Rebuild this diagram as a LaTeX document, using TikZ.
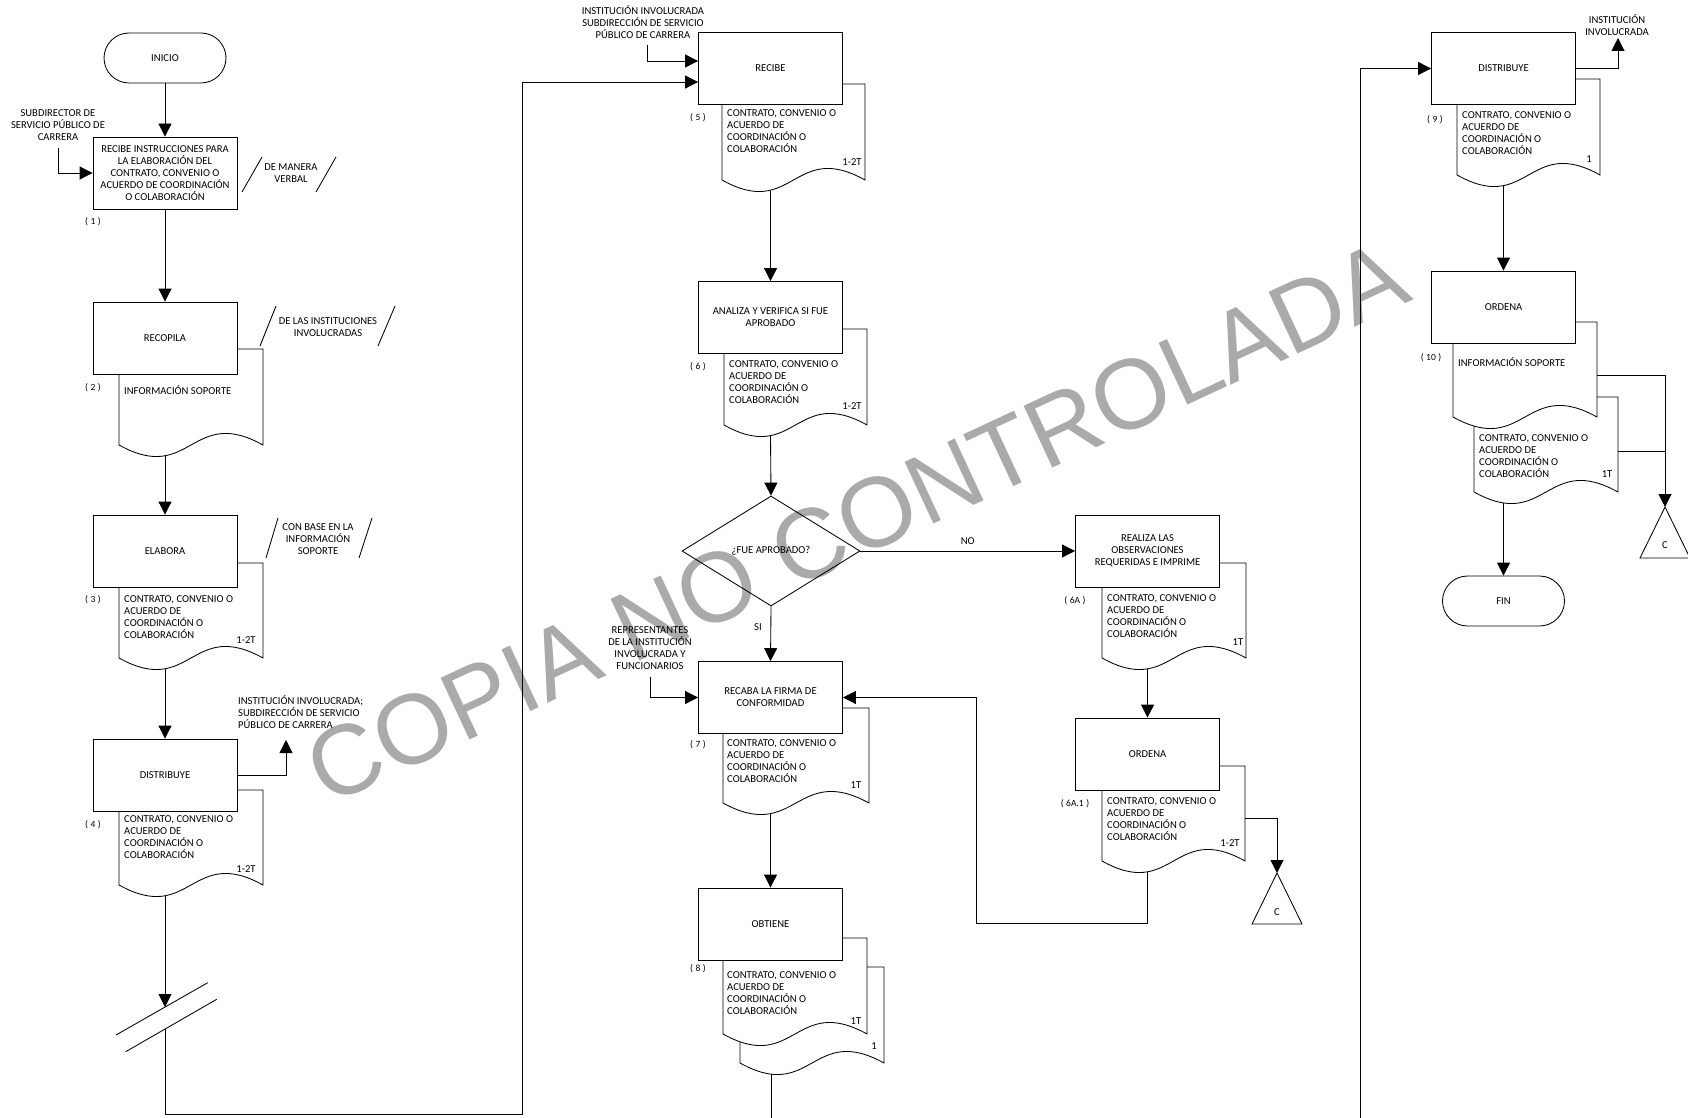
\documentclass[tikz,border=0pt]{standalone}
\usepackage{fontspec}
\setmainfont{Carlito}
\newfontfamily\markfont{Liberation Sans}
\usetikzlibrary{arrows.meta,shapes.geometric}
\newcommand\flowfont{\fontsize{10.6}{12}\selectfont}
\newcommand\stepfont{\fontsize{9.5}{11}\selectfont}
\definecolor{markgray}{RGB}{170,170,170}

% visible outline of a document symbol tucked behind a process box
\newcommand\docshape[5]{% box, left x, top y, right x, bottom y
  \draw[flow] (#1.east |- 0,#3) -- (#4,#3) -- (#4,#5)
    .. controls ({(#2+#4)/2},{#5-40}) and ({(#2+#4)/2},{#5+40}) .. (#2,#5)
    -- (#2,0 |- #1.south);}
% second sheet lying behind a document
\newcommand\docsheet[6]{% front right x, left x, top y, right x, bottom y, left end y
  \draw[flow] (#1,#3) -- (#4,#3) -- (#4,#5)
    .. controls ({(#2+#4)/2},{#5-40}) and ({(#2+#4)/2},{#5+40}) .. (#2,#5)
    -- (#2,#6);}

\tikzset{
  flow/.style={line width=0.85pt, draw=black},
  arr/.style={flow, -{Triangle[length=13pt,width=13pt]}},
  procbox/.style={draw, line width=0.85pt, minimum width=144pt, minimum height=72pt,
    inner sep=2pt, align=center, font=\flowfont},
  term/.style={draw, line width=0.85pt, rounded corners=25pt, minimum width=122pt,
    minimum height=50pt, font=\flowfont},
  % multi-line texts are placed by the baseline of their last line
  txt/.style={inner sep=0pt, font=\flowfont, align=center, anchor=base},
  ltxt/.style={inner sep=0pt, font=\flowfont, align=left, anchor=base west},
  stepno/.style={inner sep=0pt, font=\stepfont, anchor=base},
}

\begin{document}
\begin{tikzpicture}[x=1pt, y=-1pt]
\useasboundingbox (0,0) rectangle (1688,1118);

% watermark
\node[rotate=25, text=markgray, inner sep=0pt,
  font=\markfont\fontsize{99}{99}\selectfont] (mark) at (857,522) {COPIA NO CONTROLADA};

% ---------------- column 1
\node[term] (inicio) at (165,58) {INICIO};
\node[procbox] (b1) at (165,173) {RECIBE INSTRUCCIONES PARA\\LA ELABORACIÓN DEL\\CONTRATO, CONVENIO O\\ACUERDO DE COORDINACIÓN\\O COLABORACIÓN};
\node[procbox] (b2) at (165,338) {RECOPILA};
\node[procbox] (b3) at (165,551) {ELABORA};
\node[procbox] (b4) at (165,775) {DISTRIBUYE};
\docshape{b2}{119}{349}{263}{445}
\docshape{b3}{119}{563}{263}{658}
\docshape{b4}{119}{790}{263}{885}
\coordinate (d2) at (165,455.7);
\coordinate (d3) at (165,668.7);
\coordinate (d4) at (165,895.7);

\node[txt] (sub) at (58,140.5) {SUBDIRECTOR DE\\SERVICIO PÚBLICO DE\\CARRERA};
\node[txt] (verbal) at (291,182.5) {DE MANERA\\VERBAL};
\draw[flow] (242,192) -- (262,157);
\draw[flow] (316,192) -- (336,157);
\node[txt] (inst2) at (328,336.5) {DE LAS INSTITUCIONES\\INVOLUCRADAS};
\draw[flow] (260,346) -- (276,306);
\draw[flow] (378,346) -- (395,306);
\node[txt] (base3) at (318,554.5) {CON BASE EN LA\\INFORMACIÓN\\SOPORTE};
\draw[flow] (266,558) -- (278,518);
\draw[flow] (359,558) -- (372,518);
\node[ltxt] (out4) at (238,728.5) {INSTITUCIÓN INVOLUCRADA;\\SUBDIRECCIÓN DE SERVICIO\\PÚBLICO DE CARRERA};

\node[ltxt] at (124,394.5) {INFORMACIÓN SOPORTE};
\node[ltxt] at (124,638.5) {CONTRATO, CONVENIO O\\ACUERDO DE\\COORDINACIÓN O\\COLABORACIÓN};
\node[txt] at (246,643.5) {1-2T};
\node[ltxt] at (124,858.5) {CONTRATO, CONVENIO O\\ACUERDO DE\\COORDINACIÓN O\\COLABORACIÓN};
\node[txt] at (246,872.5) {1-2T};

\node[stepno] at (93,224.5) {(\hspace{2.5pt}1\hspace{2.5pt})};
\node[stepno] at (93,390.5) {(\hspace{2.5pt}2\hspace{2.5pt})};
\node[stepno] at (93,602.5) {(\hspace{2.5pt}3\hspace{2.5pt})};
\node[stepno] at (93,827.5) {(\hspace{2.5pt}4\hspace{2.5pt})};

% off-page break
\coordinate (brk1) at (165,1007);
\coordinate (brk2) at (165,1029);
\draw[flow] (207.7,982.7) -- (116,1035);
\draw[flow] (216.7,999.3) -- (125.7,1051.7);

% ---------------- column 2
\node[procbox] (b5) at (770.5,68.5) {RECIBE};
\node[procbox] (b6) at (770.5,317.5) {ANALIZA Y VERIFICA SI FUE\\APROBADO};
\node[draw, line width=0.85pt, diamond, minimum width=178pt, minimum height=110pt,
  inner sep=0pt, font=\flowfont] (dia) at (771,551) {¿FUE APROBADO?};
\node[procbox] (b7) at (770.5,697.5) {RECABA LA FIRMA DE\\CONFORMIDAD};
\node[procbox] (b8) at (770.5,924) {OBTIENE};
\docshape{b5}{722}{84}{865}{180}
\docshape{b6}{724}{329}{867}{425}
\docshape{b7}{723}{708}{869}{803}
\docsheet{867}{740}{967}{884}{1063}{1042}
\docshape{b8}{723}{938}{867}{1034}
\coordinate (d5) at (770.5,190.7);
\coordinate (d6) at (770.5,435.7);
\coordinate (d7) at (770.5,813.7);
\coordinate (d8) at (771,1074);

\node[txt] (in5) at (643,38.5) {INSTITUCIÓN INVOLUCRADA\\SUBDIRECCIÓN DE SERVICIO\\PÚBLICO DE CARRERA};
\node[txt] (rep) at (650,669.5) {REPRESENTANTES\\DE LA INSTITUCIÓN\\INVOLUCRADA Y\\FUNCIONARIOS};

\node[ltxt] at (727,152.5) {CONTRATO, CONVENIO O\\ACUERDO DE\\COORDINACIÓN O\\COLABORACIÓN};
\node[txt] at (852,165.5) {1-2T};
\node[ltxt] at (729,403.5) {CONTRATO, CONVENIO O\\ACUERDO DE\\COORDINACIÓN O\\COLABORACIÓN};
\node[txt] at (852,409.5) {1-2T};
\node[ltxt] at (727,782.5) {CONTRATO, CONVENIO O\\ACUERDO DE\\COORDINACIÓN O\\COLABORACIÓN};
\node[txt] at (856,788.5) {1T};
\node[ltxt] at (727,1014.5) {CONTRATO, CONVENIO O\\ACUERDO DE\\COORDINACIÓN O\\COLABORACIÓN};
\node[txt] at (856,1024.5) {1T};
\node[txt] at (874,1049.5) {1};

\node[stepno] at (698,120.5) {(\hspace{2.5pt}5\hspace{2.5pt})};
\node[stepno] at (698,369.5) {(\hspace{2.5pt}6\hspace{2.5pt})};
\node[stepno] at (698,747.5) {(\hspace{2.5pt}7\hspace{2.5pt})};
\node[stepno] at (698,971.5) {(\hspace{2.5pt}8\hspace{2.5pt})};

% ---------------- column 3
\node[procbox] (b6a) at (1147.5,551) {REALIZA LAS\\OBSERVACIONES\\REQUERIDAS E IMPRIME};
\node[procbox] (b6a1) at (1147.5,754) {ORDENA};
\docshape{b6a}{1102}{563}{1246}{658}
\docshape{b6a1}{1102}{766}{1245}{861}
\coordinate (d6a) at (1147.5,668.7);
\coordinate (d6a1) at (1147.5,871.7);
\node[ltxt] at (1107,637.5) {CONTRATO, CONVENIO O\\ACUERDO DE\\COORDINACIÓN O\\COLABORACIÓN};
\node[txt] at (1238,645.5) {1T};
\node[ltxt] at (1107,840.5) {CONTRATO, CONVENIO O\\ACUERDO DE\\COORDINACIÓN O\\COLABORACIÓN};
\node[txt] at (1230,846.5) {1-2T};
\node[stepno] at (1075,603.5) {(\hspace{2.5pt}6A\hspace{2.5pt})};
\node[stepno] at (1075,806.5) {(\hspace{2.5pt}6A.1\hspace{2.5pt})};

% connector C after step 6A.1
\coordinate (c1) at (1277,873);
\draw[flow] (c1) -- (1302,924) -- (1252,924) -- cycle;
\node[txt] at (1277,915.5) {C};

% ---------------- column 4
\node[procbox] (b9) at (1503.5,68.5) {DISTRIBUYE};
\node[procbox] (b10) at (1503.5,307) {ORDENA};
\node[term] (fin) at (1503.5,601) {FIN};
\docshape{b9}{1457}{79}{1600}{175}
\docsheet{1597}{1474}{397}{1618}{492}{426}
\docshape{b10}{1453}{322}{1597}{417}
\coordinate (d9) at (1503.5,185.7);
\coordinate (d10) at (1503.5,503);
\node[txt] (out9) at (1617,35.5) {INSTITUCIÓN\\INVOLUCRADA};
\node[ltxt] at (1462,155) {CONTRATO, CONVENIO O\\ACUERDO DE\\COORDINACIÓN O\\COLABORACIÓN};
\node[txt] at (1589,162.5) {1};
\node[ltxt] at (1458,366.5) {INFORMACIÓN SOPORTE};
\node[ltxt] at (1479,477.5) {CONTRATO, CONVENIO O\\ACUERDO DE\\COORDINACIÓN O\\COLABORACIÓN};
\node[txt] at (1607,477.5) {1T};
\node[stepno] at (1435,122.5) {(\hspace{2.5pt}9\hspace{2.5pt})};
\node[stepno] at (1431,360.5) {(\hspace{2.5pt}10\hspace{2.5pt})};

% connector C after step 10
\coordinate (c2) at (1665,507);
\draw[flow] (c2) -- (1690,558) -- (1640,558) -- cycle;
\node[txt] at (1665,548.5) {C};

% ---------------- connectors
\draw[arr] (inicio) -- (b1);
\draw[arr] (58,148) |- (b1.west);
\draw[arr] (b1) -- (b2);
\draw[arr] (d2) -- (b3.north);
\draw[arr] (d3) -- (b4.north);
\draw[arr] (b4.east) -| (286,740);
\draw[arr] (d4) -- (brk1);
\draw[arr] (brk2) -- (165,1114) -| (522,82) -- (b5.west |- 0,82);
\draw[arr] (647,45) |- (b5.west |- 0,61);
\draw[arr] (d5) -- (b6.north);
\draw[arr] (d6) -- (dia.north);
\draw[arr] (dia.east) -- node[txt, above=7pt, anchor=base] {NO} (b6a.west);
\draw[arr] (dia.south) -- (b7.north);
\node[txt] at (758,630.5) {SI};
\draw[arr] (650,677) |- (b7.west);
\draw[arr] (d7) -- (b8.north);
\draw[flow] (d8) -- (771,1118);
\draw[arr] (d6a) -- (b6a1.north);
\draw[arr] (1245,818) -| (c1);
\draw[arr] (d6a1) -- (1147.5,923) -| (976,697.5) -- (b7.east);
\draw[arr] (1360,1118) |- (b9.west);
\draw[arr] (b9.east) -| (1618,38);
\draw[arr] (d9) -- (b10.north);
\draw[arr] (1597,375) -| (c2);
\draw[flow] (1618,451) -- (1665,451);
\draw[arr] (d10) -- (fin);
\end{tikzpicture}
\end{document}
